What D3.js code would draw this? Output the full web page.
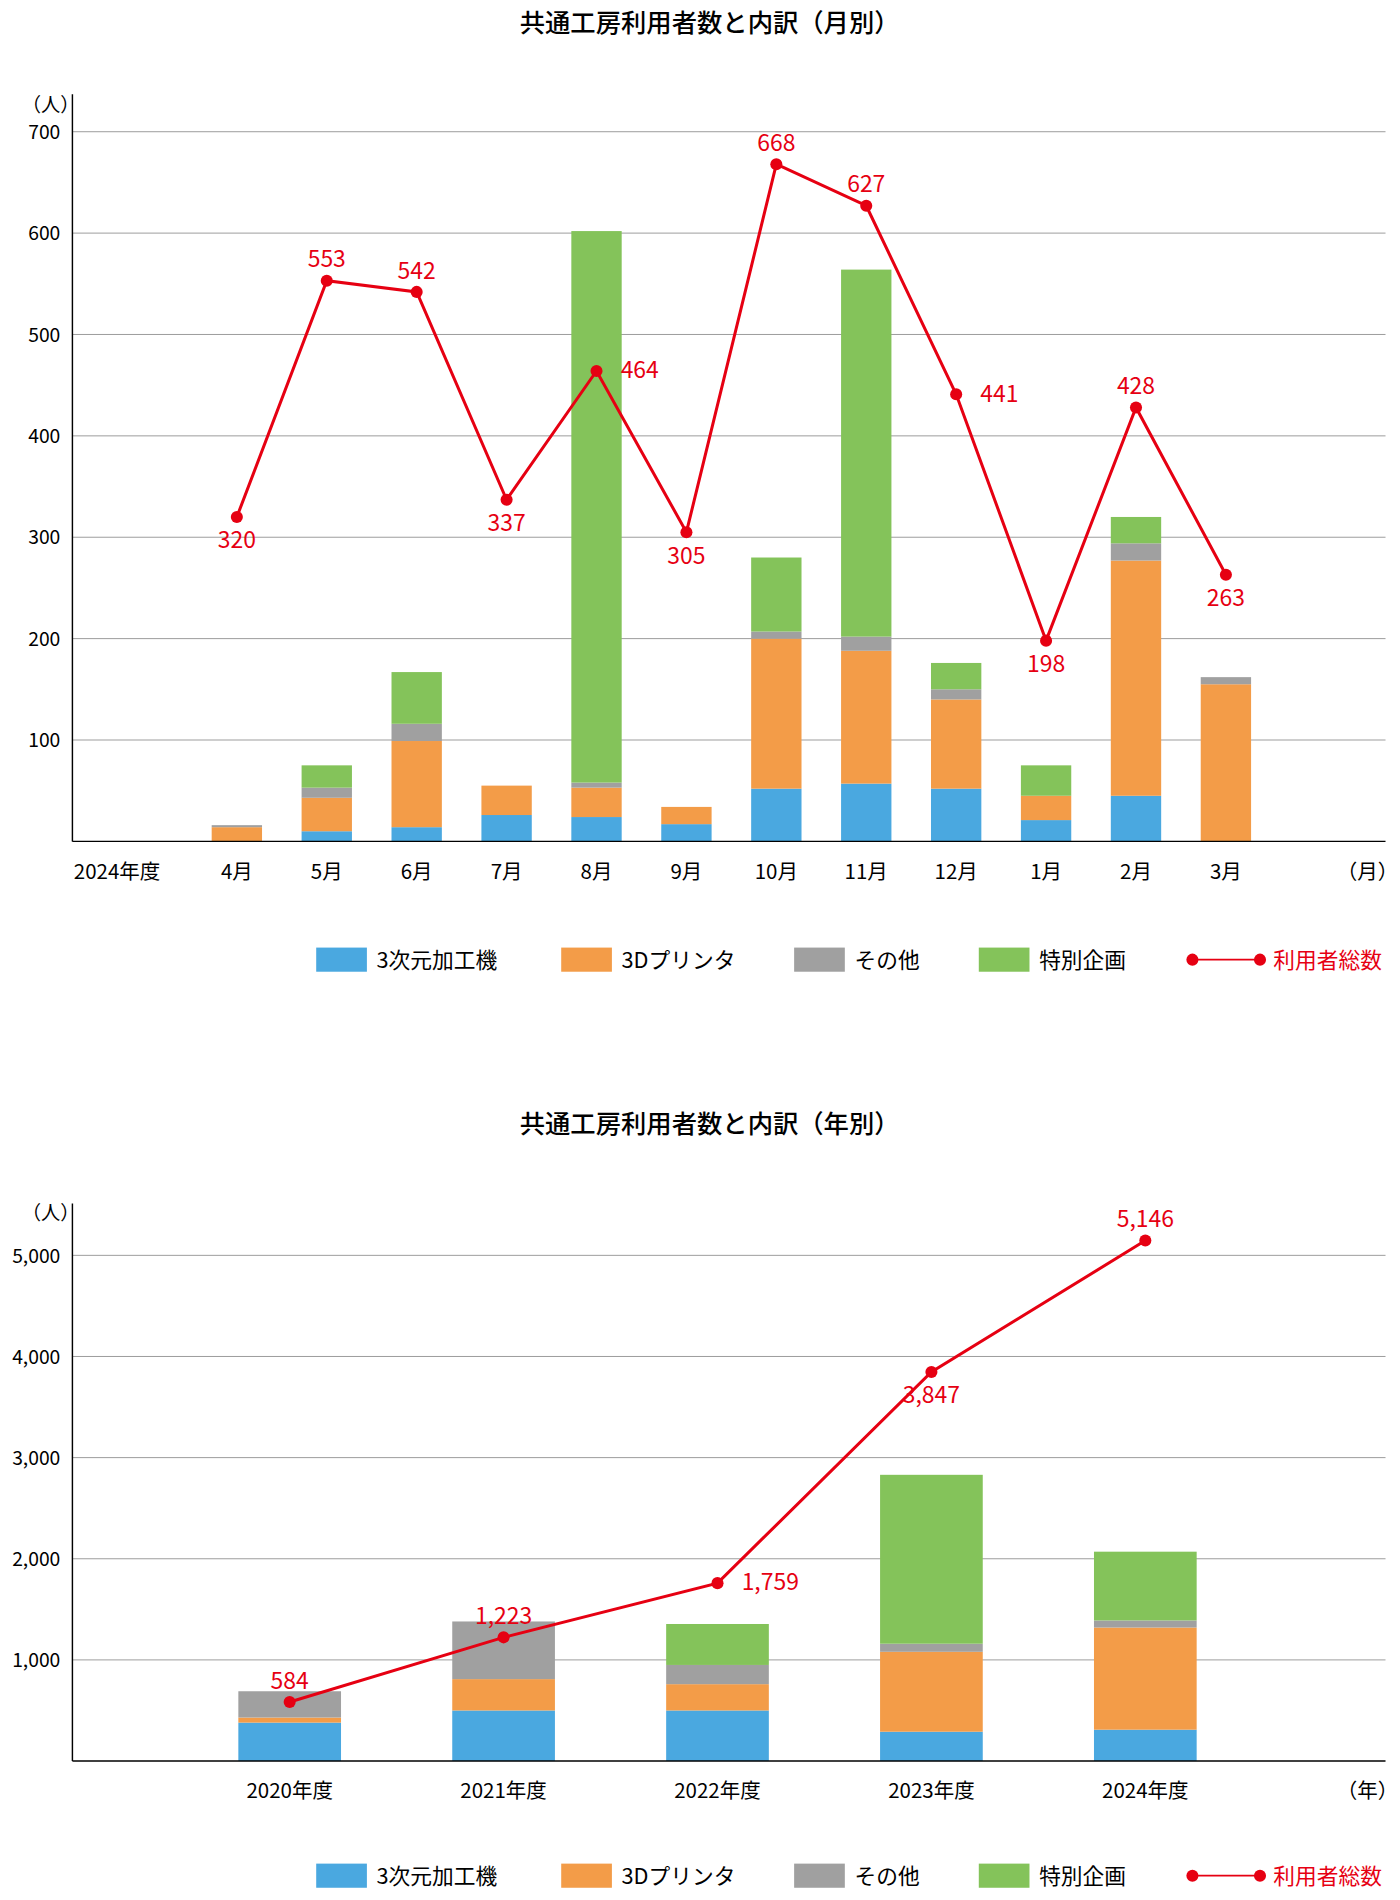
<!DOCTYPE html>
<html><head><meta charset="utf-8">
<script src="https://cdn.jsdelivr.net/npm/d3@7"></script>
<style>body{margin:0;background:#fff}text{font-family:"Noto Sans CJK JP","Noto Sans",sans-serif}</style>
</head><body>
<svg id="c" width="1400" height="1900" viewBox="0 0 1160 1574"></svg>
<script>
const series = ["3次元加工機","3Dプリンタ","その他","特別企画"];
const colors = ["#4aa8e0","#f39c48","#a0a0a0","#84c35a"];
const red = "#e60012";
const months = ["4月","5月","6月","7月","8月","9月","10月","11月","12月","1月","2月","3月"];
const mBlue   = [0,10,14,26,24,17,52,57,52,21,45,0];
const mOrange = [14,33,85,29,29,17,148,131,88,24,232,155];
const mOther  = [2,10,17,0,5,0,7,14,10,0,17,7];
const mSpecial= [0,22,51,0,544,0,73,362,26,30,26,0];
const mTotal  = [320,553,542,337,464,305,668,627,441,198,428,263];
const mLabelPos = ["b","t","t","b","r","b","t","t","r","b","t","b"];
const mTicks = [100,200,300,400,500,600,700];

const years = ["2020年度","2021年度","2022年度","2023年度","2024年度"];
const yBlue   = [380,500,500,290,310];
const yOrange = [50,310,260,790,1010];
const yOther  = [260,570,190,80,70];
const ySpecial= [0,0,405,1670,680];
const yTotal  = [584,1223,1759,3847,5146];
const yLabelPos = ["t","t","r","b","t"];
const yTicks = [1000,2000,3000,4000,5000];

const svg = d3.select("#c");

function chart(o){
  const g = svg.append("g");
  g.append("text").attr("x",588).attr("y",o.titleY).attr("text-anchor","middle")
    .attr("font-size",21).attr("font-weight",500).text(o.title);
  const y = d3.scaleLinear().domain([0,o.ymax]).range([o.y0,o.y1]);
  const x = d3.scaleBand().domain(o.cats).range(o.xr).paddingInner(o.pad).paddingOuter(o.pad/2);
  // grid
  o.ticks.forEach(t=>{
    g.append("line").attr("x1",60).attr("x2",1148).attr("y1",y(t)).attr("y2",y(t)).attr("stroke","#999").attr("stroke-width",0.8);
    g.append("text").attr("x",o.tickX).attr("y",y(t)+6).attr("text-anchor","end").attr("font-size",16).text(o.fmt(t));
  });
  g.append("text").attr("x",18).attr("y",o.unitY).attr("font-size",16).text("（人）");
  // bars
  const stackData = o.cats.map((c,i)=>({c,v:o.vals.map(a=>a[i])}));
  stackData.forEach(d=>{
    let acc=0;
    d.v.forEach((v,k)=>{
      if(v>0){
        g.append("rect").attr("x",x(d.c)).attr("width",x.bandwidth())
          .attr("y",y(acc+v)).attr("height",y(acc)-y(acc+v)).attr("fill",colors[k]);
      }
      acc+=v;
    });
  });
  // axes
  g.append("line").attr("x1",60).attr("x2",60).attr("y1",o.axisTop).attr("y2",o.y0).attr("stroke","#000").attr("stroke-width",1.2);
  g.append("line").attr("x1",60).attr("x2",1148).attr("y1",o.y0).attr("y2",o.y0).attr("stroke","#000").attr("stroke-width",1.2);
  o.cats.forEach(c=>g.append("text").attr("x",x(c)+x.bandwidth()/2).attr("y",o.y0+31).attr("text-anchor","middle").attr("font-size",17).text(c));
  if(o.extraLabel) g.append("text").attr("x",o.extraLabel[0]).attr("y",o.y0+31).attr("text-anchor","middle").attr("font-size",17).text(o.extraLabel[1]);
  g.append("text").attr("x",1133).attr("y",o.y0+31).attr("text-anchor","middle").attr("font-size",17).text(o.unitX);
  // line
  const cx = c=>x(c)+x.bandwidth()/2;
  g.append("path").attr("d",d3.line().x((d,i)=>cx(o.cats[i])).y(d=>y(d))(o.total))
    .attr("fill","none").attr("stroke",red).attr("stroke-width",2.5);
  o.total.forEach((v,i)=>{
    const px=cx(o.cats[i]), py=y(v);
    g.append("circle").attr("cx",px).attr("cy",py).attr("r",5).attr("fill",red);
    const p=o.pos[i];
    let tx=px,ty=py,anc="middle";
    if(p==="t"){ty=py-11;} else if(p==="b"){ty=py+26;} else {tx=px+20;ty=py+6;anc="start";}
    g.append("text").attr("x",tx).attr("y",ty).attr("text-anchor",anc).attr("font-size",19).attr("fill",red).text(o.fmt(v));
  });
  // legend
  const ly=o.legendY;
  const lx=[262,465,658,811];
  series.forEach((s,k)=>{
    g.append("rect").attr("x",lx[k]).attr("y",ly-10).attr("width",42).attr("height",20).attr("fill",colors[k]);
    g.append("text").attr("x",lx[k]+50).attr("y",ly+7).attr("font-size",18).text(s);
  });
  g.append("line").attr("x1",988).attr("x2",1044).attr("y1",ly).attr("y2",ly).attr("stroke",red).attr("stroke-width",1.5);
  [988,1044].forEach(cx0=>g.append("circle").attr("cx",cx0).attr("cy",ly).attr("r",5).attr("fill",red));
  g.append("text").attr("x",1055).attr("y",ly+7).attr("font-size",18).attr("fill",red).text("利用者総数");
}

chart({title:"共通工房利用者数と内訳（月別）",titleY:26,cats:months,vals:[mBlue,mOrange,mOther,mSpecial],total:mTotal,pos:mLabelPos,
  ymax:700,y0:697,y1:109,xr:[159,1053],pad:0.44,ticks:mTicks,tickX:50,fmt:d3.format(","),unitY:93,axisTop:78,
  extraLabel:[97,"2024年度"],unitX:"（月）",legendY:795});
chart({title:"共通工房利用者数と内訳（年別）",titleY:939,cats:years,vals:[yBlue,yOrange,yOther,ySpecial],total:yTotal,pos:yLabelPos,
  ymax:5000,y0:1459,y1:1040,xr:[151.4,1037.6],pad:0.52,ticks:yTicks,tickX:50,fmt:d3.format(","),unitY:1011,axisTop:997,
  extraLabel:null,unitX:"（年）",legendY:1554});
</script>
</body></html>
